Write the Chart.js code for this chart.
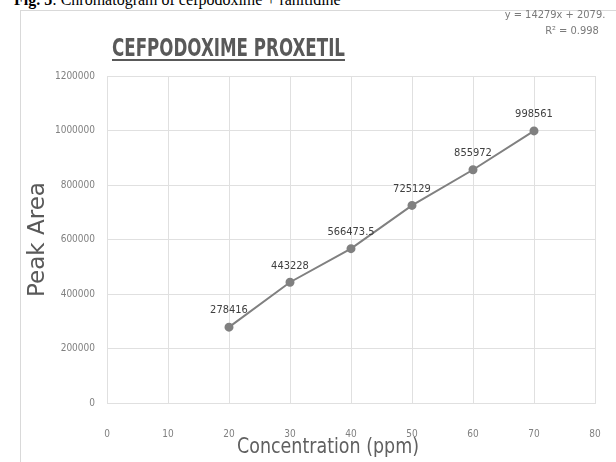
<!DOCTYPE html>
<html>
<head>
<meta charset="utf-8">
<script src="https://cdn.jsdelivr.net/npm/chart.js@4"></script>
<style>
  html, body { margin: 0; padding: 0; background: #fff; }
  body { width: 616px; height: 462px; position: relative; overflow: hidden; }
  #fig { position: absolute; left: 14px; top: -9px; font: 16px "Liberation Serif", "DejaVu Serif", serif; color: #000; white-space: nowrap; }
  #frame { position: absolute; left: 20px; top: 10px; width: 620px; height: 470px; border: 1px solid #d9d9d9; box-sizing: border-box; }
  #chart { position: absolute; left: 0; top: 0; }
</style>
</head>
<body>
<div id="fig"><b>Fig. 5</b>: Chromatogram of cefpodoxime + ranitidine</div>
<div id="frame"></div>
<canvas id="chart" width="616" height="462"></canvas>
<script>
// concentration (ppm) vs peak area
const concentrations = [20, 30, 40, 50, 60, 70];
const peakAreas = [278416, 443228, 566473.5, 725129, 855972, 998561];
const pointLabels = ["278416", "443228", "566473.5", "725129", "855972", "998561"];
const chartTitle = "CEFPODOXIME PROXETIL";
const xAxisTitle = "Concentration (ppm)";
const equationLines = ["y = 14279x + 2079.", "R\u00b2 = 0.998"];

const grey = "#808080";
const gridGrey = "#e0e0e0";
const narrow = "'Liberation Sans Narrow', 'DejaVu Sans Condensed', sans-serif";

// title with underline, trendline equation and x axis title
const titlePlugin = {
  id: "titlePlugin",
  afterDraw(chart) {
    const ctx = chart.ctx;
    ctx.save();
    ctx.fillStyle = "#595959";
    ctx.font = "bold 25px " + narrow;
    ctx.textAlign = "left";
    ctx.textBaseline = "alphabetic";
    ctx.fillText(chartTitle, 112, 56, 233);
    ctx.fillRect(112, 59, 233, 2);

    ctx.font = "22px " + narrow;
    ctx.fillStyle = "#606060";
    ctx.textAlign = "center";
    ctx.fillText(xAxisTitle, 328, 453, 182);

    ctx.font = "11px " + narrow;
    ctx.fillStyle = "#7a7a7a";
    ctx.fillText(equationLines[0], 555, 18, 116);
    ctx.fillText(equationLines[1], 572, 34);
    ctx.restore();
  },
};

// value labels above each point
const labelPlugin = {
  id: "labelPlugin",
  afterDatasetsDraw(chart) {
    const ctx = chart.ctx;
    const meta = chart.getDatasetMeta(0);
    ctx.save();
    ctx.fillStyle = "#404040";
    ctx.font = "11px " + narrow;
    ctx.textAlign = "center";
    ctx.textBaseline = "bottom";
    meta.data.forEach((pt, i) => {
      ctx.fillText(pointLabels[i], pt.x, pt.y - 11);
    });
    ctx.restore();
  },
};

new Chart(document.getElementById("chart"), {
  type: "line",
  data: {
    datasets: [{
      data: concentrations.map((x, i) => ({ x: x, y: peakAreas[i] })),
      borderColor: grey,
      backgroundColor: grey,
      borderWidth: 2,
      pointRadius: 3.5,
      pointHoverRadius: 3.5,
      tension: 0,
    }],
  },
  options: {
    responsive: false,
    animation: false,
    layout: { autoPadding: false, padding: { left: 20, right: 21, top: 76, bottom: 0 } },
    plugins: { legend: { display: false }, tooltip: { enabled: false } },
    scales: {
      x: {
        type: "linear",
        min: 0,
        max: 80,
        afterFit(scale) {
          scale.height = 59;
          scale.paddingLeft = 0;
          scale.paddingRight = 0;
        },
        ticks: { stepSize: 10, color: grey, padding: 25, font: { size: 10, family: narrow } },
        grid: { color: gridGrey, drawTicks: false },
        border: { color: gridGrey },
      },
      y: {
        min: 0,
        max: 1200000,
        afterFit(scale) {
          scale.width = 87;
          scale.paddingTop = 0;
          scale.paddingBottom = 0;
        },
        ticks: {
          stepSize: 200000,
          color: grey,
          padding: 12,
          font: { size: 10, family: narrow },
          callback: (v) => String(v),
        },
        grid: { color: gridGrey, drawTicks: false },
        border: { color: gridGrey },
        title: {
          display: true,
          text: "Peak Area",
          color: "#595959",
          padding: { top: 4, bottom: 0 },
          font: { size: 23, family: "'DejaVu Sans', sans-serif" },
        },
      },
    },
  },
  plugins: [titlePlugin, labelPlugin],
});
</script>
</body>
</html>
